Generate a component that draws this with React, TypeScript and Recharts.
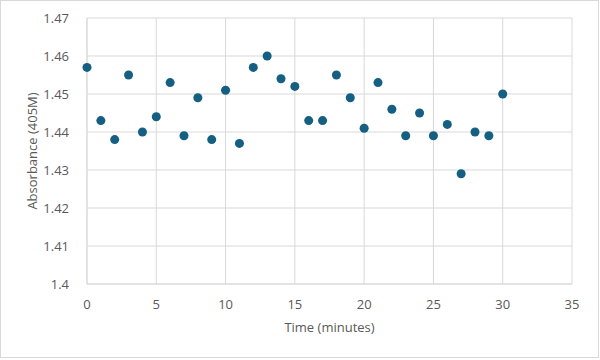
import React from 'react';
import { ScatterChart, Scatter, XAxis, YAxis, CartesianGrid } from 'recharts';

const minutes = [0, 1, 2, 3, 4, 5, 6, 7, 8, 9, 10, 11, 12, 13, 14, 15, 16, 17, 18, 19, 20, 21, 22, 23, 24, 25, 26, 27, 28, 29, 30];
const absorbance = [
  1.457, 1.443, 1.438, 1.455, 1.44, 1.444, 1.453, 1.439, 1.449, 1.438, 1.451,
  1.437, 1.457, 1.46, 1.454, 1.452, 1.443, 1.443, 1.455, 1.449, 1.441, 1.453,
  1.446, 1.439, 1.445, 1.439, 1.442, 1.429, 1.44, 1.439, 1.45,
];
const xTicks = [0, 5, 10, 15, 20, 25, 30, 35];
const yTicks = [1.4, 1.41, 1.42, 1.43, 1.44, 1.45, 1.46, 1.47];

const data = minutes.map((t, i) => ({ t, a: absorbance[i] }));

const FONT = '"Open Sans", "Liberation Sans", sans-serif';
const TEXT = '#595959';
const GRID = '#d9d9d9';

const App: React.FC = () => {
  return (
    <div
      style={{
        position: 'absolute',
        left: 0,
        top: 0,
        width: 597,
        height: 356,
        border: `1px solid ${GRID}`,
        background: '#fff',
        fontFamily: FONT,
      }}
    >
      <div style={{ position: 'absolute', left: -1, top: -1 }}>
        <ScatterChart width={600} height={360} margin={{ top: 18, right: 28, bottom: 22, left: 0 }}>
          <CartesianGrid stroke={GRID} strokeWidth={1} />
          <XAxis
            type="number"
            dataKey="t"
            domain={[0, 35]}
            ticks={xTicks}
            tickLine={false}
            axisLine={{ stroke: GRID }}
            tick={{ fill: TEXT, fontSize: 13, fontFamily: FONT }}
            tickMargin={10}
            height={54}
            label={{ value: 'Time (minutes)', position: 'insideBottom', offset: 6, fill: TEXT, fontSize: 13, fontFamily: FONT }}
          />
          <YAxis
            type="number"
            dataKey="a"
            domain={[1.4, 1.47]}
            ticks={yTicks}
            tickLine={false}
            axisLine={{ stroke: GRID }}
            tick={{ fill: TEXT, fontSize: 13, fontFamily: FONT }}
            tickMargin={12}
            width={87}
            allowDataOverflow
            label={{ value: 'Absorbance (405M)', angle: -90, position: 'insideLeft', offset: 32, fill: TEXT, fontSize: 13, fontFamily: FONT, style: { textAnchor: 'middle' } }}
          />
          <Scatter data={data} fill="#156082" isAnimationActive={false} />
        </ScatterChart>
      </div>
    </div>
  );
};

export default App;
